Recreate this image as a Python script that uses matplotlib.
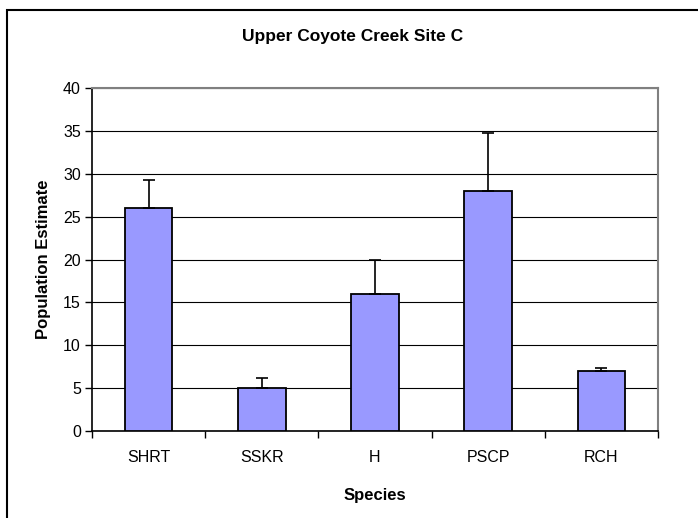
import numpy as np
import matplotlib.pyplot as plt
from matplotlib.patches import Rectangle

plt.rcParams['font.family'] = ['Liberation Sans', 'DejaVu Sans']

# Daten
species = ['SHRT', 'SSKR', 'H', 'PSCP', 'RCH']
estimates = [26, 5, 16, 28, 7]
err_upper = [3.3, 1.2, 4.0, 6.7, 0.4]
y_ticks = [0, 5, 10, 15, 20, 25, 30, 35, 40]

fig = plt.figure(figsize=(6.98, 5.18), dpi=100)
ax = fig.add_axes([92 / 698, 87 / 518, 566 / 698, 343 / 518])

x = np.arange(len(species))
ax.bar(x, estimates, width=0.42, color='#9999FF', edgecolor='black',
       linewidth=1.3, zorder=3)
ax.errorbar(x, estimates, yerr=[np.zeros(len(err_upper)), err_upper],
            fmt='none', ecolor='black', elinewidth=1.2, capsize=4.5,
            capthick=1.2, zorder=4)

ax.set_xlim(-0.5, len(species) - 0.5)
ax.set_ylim(0, 40)
ax.set_yticks(y_ticks)
ax.yaxis.grid(True, color='black', linewidth=0.8, zorder=0)
ax.set_axisbelow(True)

# x ticks an den Kategoriegrenzen, Labels mittig
ax.set_xticks(np.arange(-0.5, len(species)), minor=False)
ax.set_xticklabels([])
ax.set_xticks(x, minor=True)
ax.set_xticklabels(species, minor=True)
ax.tick_params(axis='x', which='minor', length=0, pad=14, labelsize=11.5)
ax.tick_params(axis='x', which='major', length=5, width=1, direction='out')
ax.tick_params(axis='y', length=5, width=1, direction='out', pad=3,
               labelsize=11.5)

for s in ['top', 'right']:
    ax.spines[s].set_color('#808080')
    ax.spines[s].set_linewidth(1.5)
ax.spines['left'].set_linewidth(1.2)
ax.spines['bottom'].set_linewidth(1.2)

ax.set_xlabel('Species', fontsize=12, fontweight='bold', labelpad=16)
ax.set_ylabel('Population Estimate', fontsize=12, fontweight='bold', labelpad=9)
fig.text(0.5 * (1 + 7 / 698), 1 - 37 / 518, 'Upper Coyote Creek Site C',
         ha='center', va='center', fontsize=12.5, fontweight='bold')

# Rahmen um das Diagramm
fig.patches.append(Rectangle((7 / 698, -0.1), 1.2, 1 - 10 / 518 + 0.1,
                             transform=fig.transFigure, fill=False,
                             edgecolor='black', linewidth=1.5))

plt.savefig('out.png', dpi=100)
